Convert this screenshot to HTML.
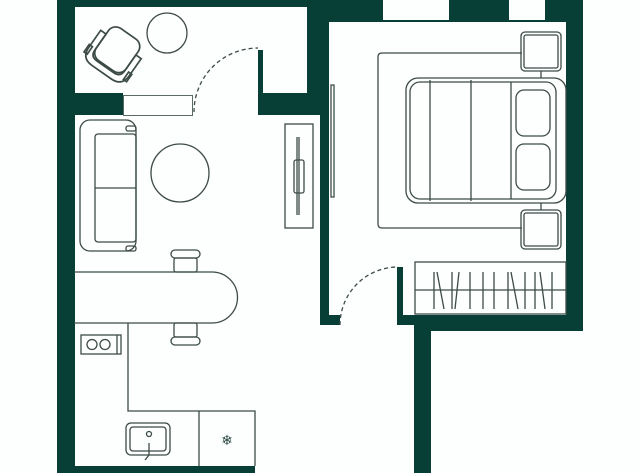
<!DOCTYPE html>
<html><head><style>html,body{margin:0;padding:0;background:#fff}svg{display:block}</style></head>
<body>
<svg width="640" height="473" viewBox="0 0 640 473" xmlns="http://www.w3.org/2000/svg">
<rect width="640" height="473" fill="#fdfefe"/>
<g fill="#073f36">
<rect x="57" y="0" width="18" height="473"/>
<rect x="57" y="0" width="250" height="7"/>
<rect x="307" y="0" width="22" height="115"/>
<rect x="74" y="93" width="49" height="22"/>
<rect x="258" y="93" width="71" height="22"/>
<rect x="258" y="50" width="5" height="45"/>
<rect x="320" y="0" width="9" height="325"/>
<rect x="320" y="315" width="20" height="10"/>
<rect x="320" y="0" width="263" height="22"/>
<rect x="566" y="0" width="17" height="331"/>
<rect x="397" y="267" width="6" height="58"/>
<rect x="397" y="315" width="186" height="10"/>
<rect x="414" y="315" width="169" height="16"/>
<rect x="414" y="315" width="17" height="158"/>
<rect x="57" y="466" width="198" height="7"/>
</g>
<g fill="#fdfefe" stroke="#5a6a66" stroke-width="1">
<rect x="383" y="0" width="66" height="20" stroke="none"/>
<rect x="509" y="0" width="36" height="20" stroke="none"/>
<rect x="123.5" y="95.5" width="69" height="20"/>
</g>
<g fill="none" stroke="#3d4b47" stroke-width="1.3">
<path d="M194 112 A64 64 0 0 1 258 48" stroke-dasharray="4 3"/>
<path d="M340 325 A58 58 0 0 1 398 267" stroke-dasharray="4 3"/>
<circle cx="167" cy="33" r="20"/>
<g transform="translate(115 53) rotate(35) scale(1.3)">
<rect x="-14" y="-18" width="28" height="30" rx="7"/>
<path d="M-19 -8 L-19 8 Q-19 18 -9 18 L9 18 Q19 18 19 8 L19 -8 L14 -8 L14 7 Q14 13 8 13 L-8 13 Q-14 13 -14 7 L-14 -8 Z"/>
<rect x="-20" y="6" width="3" height="7"/><rect x="17" y="6" width="3" height="7"/>
</g>
<rect x="80" y="120" width="56" height="131" rx="10"/>
<rect x="95" y="134" width="41" height="108" rx="3"/>
<line x1="95" y1="188" x2="136" y2="188"/>
<rect x="126" y="126" width="10" height="5" rx="2"/>
<rect x="126" y="246" width="10" height="5" rx="2"/>
<circle cx="180" cy="173" r="29"/>
<rect x="285" y="124" width="28" height="104"/>
<line x1="297" y1="137" x2="297" y2="215"/>
<line x1="299" y1="137" x2="299" y2="215"/>
<rect x="294" y="160" width="10" height="33" rx="2"/>
<path d="M74 272 H212 A25.5 25.5 0 0 1 212 323 H74"/>
<rect x="171" y="250" width="29" height="8" rx="4"/>
<rect x="174" y="258" width="23" height="14" rx="2"/>
<rect x="171" y="337" width="29" height="8" rx="4"/>
<rect x="174" y="323" width="23" height="14" rx="2"/>
<path d="M128 323 V411 H255 V466 M199 411 V466"/>
<rect x="81" y="335" width="40" height="19"/>
<line x1="117" y1="335" x2="117" y2="354"/>
<circle cx="92" cy="344.5" r="5"/><circle cx="105" cy="344.5" r="5"/>
<rect x="126" y="423" width="44" height="32" rx="5"/>
<rect x="130" y="427" width="36" height="24" rx="3"/>
<circle cx="149" cy="434" r="2.5"/>
<path d="M149 443 V455 L145 460"/>
<rect x="331" y="85" width="3" height="112"/>
<path d="M522 53 H382 Q378 53 378 57 V224 Q378 228 382 228 H522"/>
<rect x="521" y="32" width="40" height="39" rx="4"/>
<rect x="524" y="35" width="34" height="33" rx="2"/>
<rect x="521" y="210" width="40" height="39" rx="4"/>
<rect x="524" y="213" width="34" height="33" rx="2"/>
<line x1="541" y1="71" x2="541" y2="78"/><line x1="541" y1="203" x2="541" y2="210"/>
<rect x="406" y="78" width="160" height="125" rx="12"/>
<rect x="410" y="82" width="146" height="117" rx="10"/>
<line x1="430" y1="80" x2="430" y2="201"/>
<line x1="471" y1="80" x2="471" y2="201"/>
<line x1="511" y1="82" x2="511" y2="199"/>
<rect x="516" y="90" width="34" height="46" rx="8"/>
<rect x="516" y="144" width="34" height="46" rx="8"/>
<rect x="415" y="262" width="151" height="52"/>
<line x1="415" y1="290" x2="566" y2="290"/>
<path d="M434 272 V309 M437 272 L444 309 M452 272 V309 M455 309 L459 272 M470 272 V309 M483 272 V309 M494 272 V309 M508 272 V309 M511 272 L518 309 M525 272 V309 M535 272 V309 M540 272 L545 309 M552 272 V309"/>
</g>
<text x="227" y="445" font-family="DejaVu Sans, sans-serif" font-size="14" fill="#2e4a44" text-anchor="middle">❄</text>
</svg>
</body></html>
